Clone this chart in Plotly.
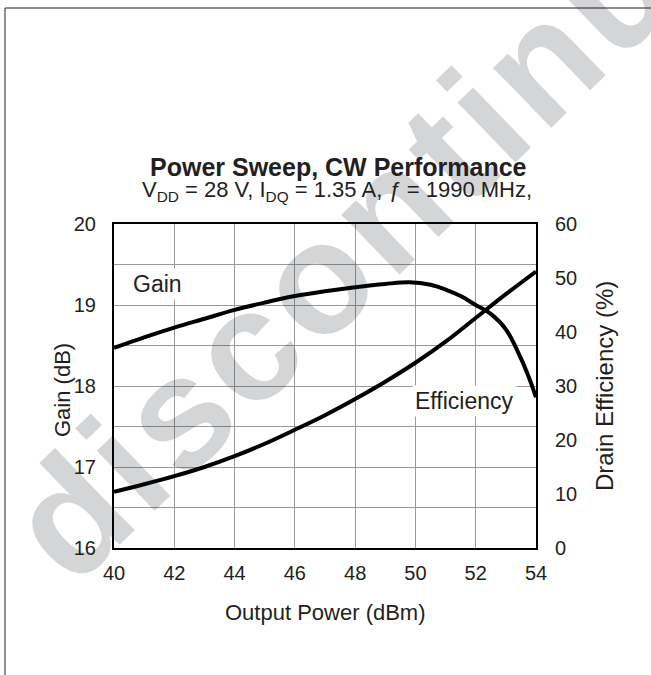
import plotly.graph_objects as go

# Data
gain_x = [40, 41, 42, 43, 44, 45, 46, 47, 48, 49, 49.8, 50.5, 51, 51.5, 52, 52.5, 53, 53.5, 53.8, 54]
gain_db = [18.47, 18.6, 18.72, 18.83, 18.94, 19.03, 19.11, 19.17, 19.22, 19.26, 19.28, 19.25, 19.19, 19.11, 19.0, 18.89, 18.70, 18.34, 18.07, 17.86]

eff_x = [40, 41, 42, 43, 44, 45, 46, 47, 48, 49, 50, 51, 52, 53, 54]
eff_pct = [10.4, 11.8, 13.3, 15.0, 17.0, 19.3, 21.9, 24.6, 27.6, 30.8, 34.3, 38.2, 42.6, 47.0, 51.2]

x_ticks = [40, 42, 44, 46, 48, 50, 52, 54]
gain_ticks = [16, 17, 18, 19, 20]
gain_minor = [16.5, 17.5, 18.5, 19.5]
eff_ticks = [0, 10, 20, 30, 40, 50, 60]

FONT = "Liberation Sans, Arial, sans-serif"
TXT = "#231f20"
GRID = "#9a9a9a"

L, R, T, B = 114, 115, 224, 127
W, H = 651, 675
pw, ph = W - L - R, H - T - B


def px(x):
    return (x - L) / pw


def py(y):
    return (H - B - y) / ph


fig = go.Figure()
fig.add_trace(go.Scatter(x=gain_x, y=gain_db, mode="lines", line=dict(color="black", width=4, shape="spline"),
                         yaxis="y", showlegend=False, hoverinfo="skip"))
fig.add_trace(go.Scatter(x=eff_x, y=eff_pct, mode="lines", line=dict(color="black", width=4, shape="spline"),
                         yaxis="y2", showlegend=False, hoverinfo="skip"))

fig.update_layout(
    width=W, height=H,
    margin=dict(l=L, r=R, t=T, b=B, pad=0, autoexpand=False),
    paper_bgcolor="white", plot_bgcolor="rgba(0,0,0,0)",
    font=dict(family=FONT, color=TXT),
    xaxis=dict(range=[40, 54], tickvals=x_ticks, showgrid=True, gridcolor=GRID, gridwidth=1,
               showline=True, linecolor="black", linewidth=2, mirror=True, zeroline=False,
               ticks="outside", ticklen=6, tickcolor="rgba(0,0,0,0)", automargin=False,
               tickfont=dict(size=20, family=FONT, color=TXT)),
    yaxis=dict(range=[16, 20], tickvals=gain_ticks, showgrid=True,
               gridcolor=GRID, gridwidth=1, showline=True, linecolor="black", linewidth=2,
               mirror=True, zeroline=False, ticks="outside", ticklen=12, tickcolor="rgba(0,0,0,0)",
               automargin=False,
               minor=dict(tickvals=gain_minor, showgrid=True, gridcolor=GRID, gridwidth=1, ticks=""),
               tickfont=dict(size=20, family=FONT, color=TXT)),
    yaxis2=dict(range=[0, 60], tickvals=eff_ticks, overlaying="y", side="right", showgrid=False,
                zeroline=False, showline=False, ticks="outside", ticklen=14, tickcolor="rgba(0,0,0,0)",
                automargin=False,
                tickfont=dict(size=20, family=FONT, color=TXT)),
)

ann = []
# Watermark
ann.append(dict(text='<span style="letter-spacing:6px">discontinued</span>', xref="paper", yref="paper",
                x=px(414), y=py(184), xanchor="center", yanchor="middle", showarrow=False, textangle=-44,
                font=dict(family=FONT, size=158, color="rgba(15,22,35,0.18)", weight="bold")))
# Titles
ann.append(dict(text="<b>Power Sweep, CW Performance</b>", xref="paper", yref="paper",
                x=px(338), y=py(167), xanchor="center", yanchor="middle", showarrow=False,
                font=dict(size=25, family=FONT, color=TXT)))
ann.append(dict(text="V<sub>DD</sub> = 28 V, I<sub>DQ</sub> = 1.35 A, <i>ƒ</i> = 1990 MHz,",
                xref="paper", yref="paper", x=px(337), y=py(191), xanchor="center", yanchor="middle",
                showarrow=False, font=dict(size=22, family=FONT, color=TXT)))
# Axis titles
ann.append(dict(text="Output Power (dBm)", xref="paper", yref="paper", x=px(325), y=py(612),
                xanchor="center", yanchor="middle",
                showarrow=False, font=dict(size=22, family=FONT, color=TXT)))
ann.append(dict(text="Gain (dB)", xref="paper", yref="paper", x=px(62), y=py(390),
                xanchor="center", yanchor="middle",
                showarrow=False, textangle=-90, font=dict(size=22, family=FONT, color=TXT)))
ann.append(dict(text="Drain Efficiency (%)", xref="paper", yref="paper", x=px(604), y=py(386),
                xanchor="center", yanchor="middle",
                showarrow=False, textangle=-90, font=dict(size=24, family=FONT, color=TXT)))
# Curve labels
ann.append(dict(text="Gain", x=40.52, y=19.26, xref="x", yref="y", xanchor="left", yanchor="middle",
                showarrow=False, bgcolor="white", borderpad=2, font=dict(size=23, family=FONT, color=TXT)))
ann.append(dict(text="Efficiency", x=49.9, y=17.82, xref="x", yref="y", xanchor="left", yanchor="middle",
                showarrow=False, bgcolor="white", borderpad=2, font=dict(size=23, family=FONT, color=TXT)))
fig.update_layout(annotations=ann)

# Outer frame
fig.add_shape(type="rect", xref="paper", yref="paper", x0=px(5), x1=px(700), y0=py(720), y1=py(8),
              line=dict(color="#231f20", width=1), fillcolor="rgba(0,0,0,0)", layer="below")

fig.write_html("out.html", config={"displayModeBar": False},
               post_script="document.body.style.margin='0';document.body.style.overflow='hidden';")
